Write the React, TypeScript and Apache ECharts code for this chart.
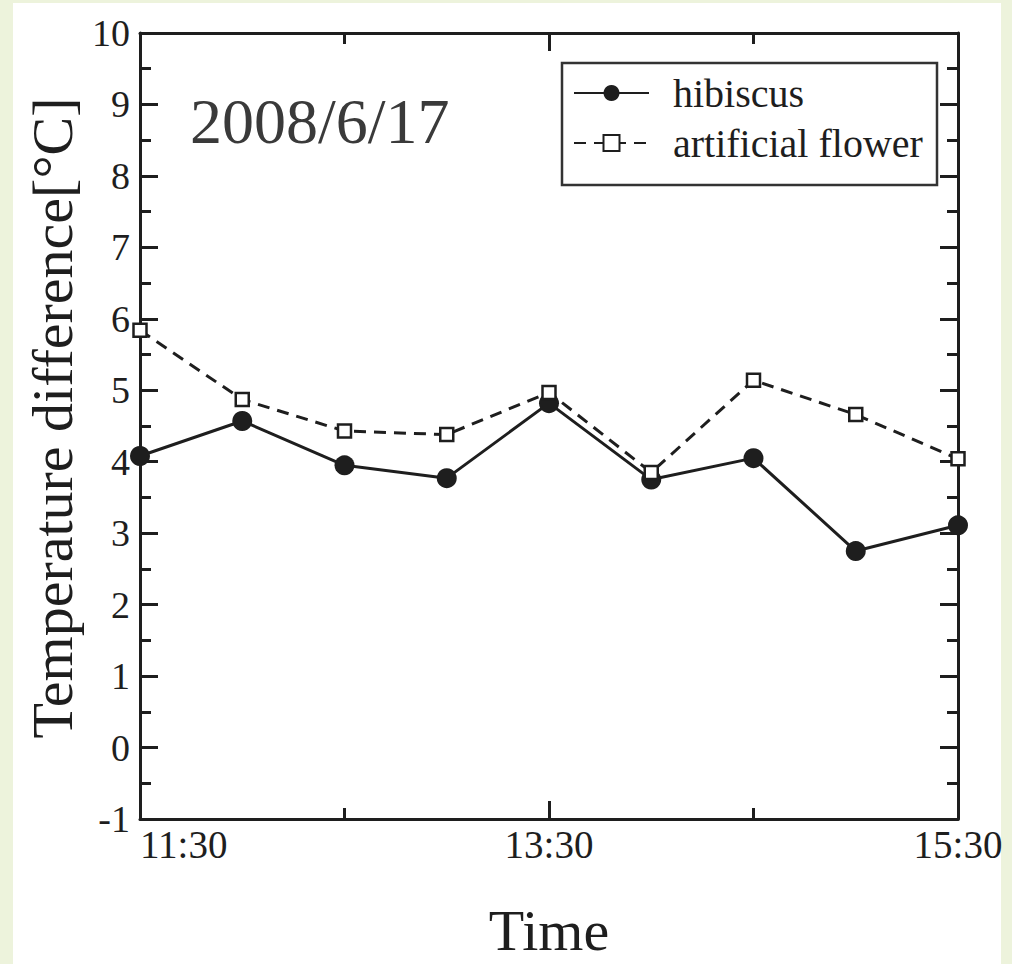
import React, { useEffect, useRef } from "react";
import * as echarts from "echarts";

const times = ["11:30", "12:00", "12:30", "13:00", "13:30", "14:00", "14:30", "15:00", "15:30"];
const hibiscus = [4.08, 4.57, 3.95, 3.77, 4.82, 3.75, 4.05, 2.75, 3.11];
const artificialFlower = [5.84, 4.87, 4.43, 4.38, 4.97, 3.85, 5.14, 4.66, 4.04];
const seriesNames = ["hibiscus", "artificial flower"];
const dateLabel = "2008/6/17";
const yAxisName = "Temperature difference[°C]";
const xAxisName = "Time";

const SERIF = "'Liberation Serif', 'Times New Roman', serif";
const INK = "#1e1e1e";
const GREEN = "#edf3dc";

export default function App() {
  const ref = useRef<HTMLDivElement>(null);
  useEffect(() => {
    if (!ref.current) return;
    const chart = echarts.init(ref.current, undefined, { renderer: "svg" });
    const axisLine = { show: true, onZero: false, lineStyle: { color: INK, width: 3 } };
    const axisTick = { show: true, inside: true, length: 18, lineStyle: { color: INK, width: 3 } };
    const minorTick = { show: true, splitNumber: 2, length: 11, lineStyle: { color: INK, width: 3 } };
    const option: any = {
      animation: false,
      backgroundColor: "#ffffff",
      textStyle: { fontFamily: SERIF },
      grid: { left: 140, top: 33, width: 818, height: 818 },
      xAxis: [
        {
          type: "value",
          position: "bottom",
          min: 0,
          max: 8,
          interval: 4,
          axisLine,
          axisTick,
          minorTick,
          splitLine: { show: false },
          axisLabel: {
            formatter: (v: number) => times[v] ?? "",
            fontSize: 39,
            color: INK,
            margin: 6,
            fontFamily: SERIF,
            alignMinLabel: "left",
          },
          name: xAxisName,
          nameLocation: "middle",
          nameGap: 82,
          nameTextStyle: { fontSize: 58, color: INK, fontFamily: SERIF },
        },
        {
          type: "value",
          position: "top",
          min: 0,
          max: 8,
          interval: 4,
          axisLine,
          axisTick,
          minorTick,
          splitLine: { show: false },
          axisLabel: { show: false },
        },
      ],
      yAxis: [
        {
          type: "value",
          position: "left",
          min: -1,
          max: 10,
          interval: 1,
          axisLine,
          axisTick,
          minorTick,
          splitLine: { show: false },
          axisLabel: { fontSize: 38, color: INK, margin: 10, fontFamily: SERIF },
        },
        {
          type: "value",
          position: "right",
          min: -1,
          max: 10,
          interval: 1,
          axisLine,
          axisTick,
          minorTick,
          splitLine: { show: false },
          axisLabel: { show: false },
        },
      ],
      legend: {
        data: seriesNames,
        orient: "vertical",
        left: 573,
        top: 73,
        padding: 0,
        itemWidth: 75,
        itemHeight: 20,
        itemGap: 10,
        selectedMode: false,
        textStyle: { fontSize: 40, color: INK, fontFamily: SERIF, padding: [0, 0, 0, 19] },
        z: 5,
      },
      series: [
        {
          name: seriesNames[0],
          type: "line",
          xAxisIndex: 0,
          yAxisIndex: 0,
          clip: false,
          data: times.map((_, i) => [i, hibiscus[i]]),
          symbol: "circle",
          symbolSize: 20,
          itemStyle: { color: INK },
          lineStyle: { color: INK, width: 3 },
        },
        {
          name: seriesNames[1],
          type: "line",
          xAxisIndex: 0,
          yAxisIndex: 0,
          clip: false,
          data: times.map((_, i) => [i, artificialFlower[i]]),
          symbol: "rect",
          symbolSize: 13,
          itemStyle: { color: "#ffffff", borderColor: INK, borderWidth: 2.5 },
          lineStyle: { color: INK, width: 3, type: [12, 8] },
        },
      ],
      graphic: [
        { type: "rect", shape: { x: 0, y: 0, width: 13, height: 964 }, style: { fill: GREEN }, z: 0 },
        { type: "rect", shape: { x: 13, y: 0, width: 988, height: 3 }, style: { fill: GREEN }, z: 0 },
        { type: "rect", shape: { x: 1001, y: 0, width: 11, height: 964 }, style: { fill: GREEN }, z: 0 },
        {
          type: "rect",
          shape: { x: 562, y: 63, width: 375, height: 122 },
          style: { fill: "#ffffff", stroke: "#333333", lineWidth: 2.5 },
          z: 4,
        },
        {
          type: "text",
          x: 190,
          y: 121,
          style: {
            text: dateLabel,
            fontSize: 64,
            fontFamily: SERIF,
            fill: "#3a3a3a",
            textAlign: "left",
            textVerticalAlign: "middle",
          },
          z: 5,
        },
        {
          type: "text",
          x: 52,
          y: 418,
          rotation: Math.PI / 2,
          style: {
            text: yAxisName,
            fontSize: 58,
            fontFamily: SERIF,
            fill: INK,
            textAlign: "center",
            textVerticalAlign: "middle",
          },
          z: 5,
        },
      ],
    };
    chart.setOption(option);
    return () => chart.dispose();
  }, []);
  return (
    <div
      ref={ref}
      style={{ position: "absolute", left: 0, top: 0, width: 1021, height: 964 }}
    />
  );
}
